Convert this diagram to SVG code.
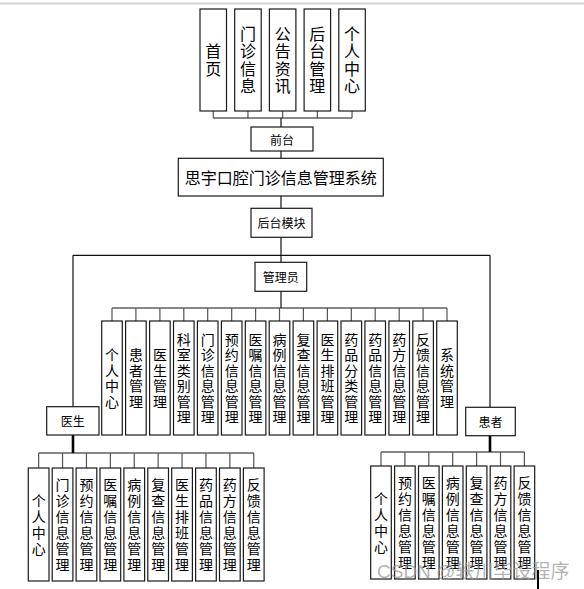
<svg xmlns="http://www.w3.org/2000/svg" width="584" height="589" viewBox="0 0 584 589">
<style>
  .box{fill:#fff;stroke:#1a1a1a;stroke-width:1.2}
  .ln{fill:none;stroke:#111;stroke-width:1.2}
  .stub{fill:none;stroke:#555;stroke-width:1.2}
  .thick{fill:none;stroke:#000;stroke-width:2.6}
  text{font-family:"Noto Sans CJK SC","Noto Sans",sans-serif;fill:#000;text-anchor:middle}
  .h{dominant-baseline:central}
  .v{writing-mode:vertical-rl;text-orientation:upright}
  .t12{font-size:12px}
  .t14{font-size:14px}
  .t16{font-size:16px}
  .va{letter-spacing:1.5px}
  .vd{letter-spacing:2px}
  .wm{font-family:"Liberation Sans","Noto Sans CJK SC",sans-serif;font-size:19px;fill:#9a9a9a;fill-opacity:0.75;text-anchor:start}
</style>
<rect width="584" height="589" fill="#fff"/>
<line x1="0" y1="3.5" x2="584" y2="3.5" stroke="#d4d4d4" stroke-width="2"/>

<g id="connectors">
  <path class="stub" d="M213.25 111V118M247.95 111V118M282.65 111V118M317.35 111V118M352.05 111V118"/>
  <path class="ln" d="M213.25 118H352.05M281 118V127M281 151V158M281 196V208M281 237V262M73 255.3H490M73 255.3V407M490 255.3V407M281 291V308"/>
  <path class="ln" d="M112 308H447"/>
  <path class="stub" d="M112 308V321M135.9 308V321M159.9 308V321M183.8 308V321M207.7 308V321M231.7 308V321M255.6 308V321M279.5 308V321M303.4 308V321M327.4 308V321M351.3 308V321M375.2 308V321M399.2 308V321M423.1 308V321M447 308V321"/>
  <path class="thick" d="M73 435V453"/>
  <path class="ln" d="M38.65 453H253.75"/>
  <path class="stub" d="M38.65 453V468M62.55 453V468M86.45 453V468M110.35 453V468M134.25 453V468M158.15 453V468M182.05 453V468M205.95 453V468M229.85 453V468M253.75 453V468"/>
  <path class="thick" d="M490 436V452"/>
  <path class="ln" d="M381 452H524.4"/>
  <path class="stub" d="M381 452V466M404.9 452V466M428.8 452V466M452.7 452V466M476.6 452V466M500.5 452V466M524.4 452V466"/>
</g>

<g id="top-home"><rect class="box" x="200" y="9" width="26.5" height="102"/><text class="v t16 va" x="213.25" y="60.8">首页</text></g>
<g id="top-clinic"><rect class="box" x="234.7" y="9" width="26.5" height="102"/><text class="v t16 va" x="247.95" y="60.8">门诊信息</text></g>
<g id="top-news"><rect class="box" x="269.4" y="9" width="26.5" height="102"/><text class="v t16 va" x="282.65" y="60.8">公告资讯</text></g>
<g id="top-backend"><rect class="box" x="304.1" y="9" width="26.5" height="102"/><text class="v t16 va" x="317.35" y="60.8">后台管理</text></g>
<g id="top-personal"><rect class="box" x="338.8" y="9" width="26.5" height="102"/><text class="v t16 va" x="352.05" y="60.8">个人中心</text></g>

<g id="frontend"><rect class="box" x="251" y="127" width="62" height="24"/><text class="h t12" x="282" y="139">前台</text></g>
<g id="system"><rect class="box" x="178.3" y="158.3" width="205" height="37.7"/><text class="h t16" x="280.8" y="177">思宇口腔门诊信息管理系统</text></g>
<g id="backend"><rect class="box" x="251" y="208.3" width="61" height="29"/><text class="h t12" x="281.5" y="222.8">后台模块</text></g>
<g id="admin"><rect class="box" x="255" y="262.3" width="51.7" height="29"/><text class="h t12" x="280.8" y="276.8">管理员</text></g>
<g id="doctor"><rect class="box" x="46.7" y="406.7" width="52.3" height="28.3"/><text class="h t12" x="72.8" y="420.8">医生</text></g>
<g id="patient"><rect class="box" x="465.7" y="407.3" width="49.6" height="28.4"/><text class="h t12" x="490.5" y="421.5">患者</text></g>

<g id="a1"><rect class="box" x="101.7" y="321" width="20.6" height="114"/><text class="v t14 va" x="112" y="378.7">个人中心</text></g>
<g id="a2"><rect class="box" x="125.6" y="321" width="20.6" height="114"/><text class="v t14 va" x="135.9" y="378.7">患者管理</text></g>
<g id="a3"><rect class="box" x="149.6" y="321" width="20.6" height="114"/><text class="v t14 va" x="159.9" y="378.7">医生管理</text></g>
<g id="a4"><rect class="box" x="173.5" y="321" width="20.6" height="114"/><text class="v t14 va" x="183.8" y="378.7">科室类别管理</text></g>
<g id="a5"><rect class="box" x="197.4" y="321" width="20.6" height="114"/><text class="v t14 va" x="207.7" y="378.7">门诊信息管理</text></g>
<g id="a6"><rect class="box" x="221.4" y="321" width="20.6" height="114"/><text class="v t14 va" x="231.7" y="378.7">预约信息管理</text></g>
<g id="a7"><rect class="box" x="245.3" y="321" width="20.6" height="114"/><text class="v t14 va" x="255.6" y="378.7">医嘱信息管理</text></g>
<g id="a8"><rect class="box" x="269.2" y="321" width="20.6" height="114"/><text class="v t14 va" x="279.5" y="378.7">病例信息管理</text></g>
<g id="a9"><rect class="box" x="293.1" y="321" width="20.6" height="114"/><text class="v t14 va" x="303.4" y="378.7">复查信息管理</text></g>
<g id="a10"><rect class="box" x="317.1" y="321" width="20.6" height="114"/><text class="v t14 va" x="327.4" y="378.7">医生排班管理</text></g>
<g id="a11"><rect class="box" x="341" y="321" width="20.6" height="114"/><text class="v t14 va" x="351.3" y="378.7">药品分类管理</text></g>
<g id="a12"><rect class="box" x="364.9" y="321" width="20.6" height="114"/><text class="v t14 va" x="375.2" y="378.7">药品信息管理</text></g>
<g id="a13"><rect class="box" x="388.9" y="321" width="20.6" height="114"/><text class="v t14 va" x="399.2" y="378.7">药方信息管理</text></g>
<g id="a14"><rect class="box" x="412.8" y="321" width="20.6" height="114"/><text class="v t14 va" x="423.1" y="378.7">反馈信息管理</text></g>
<g id="a15"><rect class="box" x="436.7" y="321" width="20.6" height="114"/><text class="v t14 va" x="447" y="378.7">系统管理</text></g>

<g id="d1"><rect class="box" x="28.3" y="468" width="20.7" height="113"/><text class="v t14 vd" x="38.65" y="525.5">个人中心</text></g>
<g id="d2"><rect class="box" x="52.2" y="468" width="20.7" height="113"/><text class="v t14 vd" x="62.55" y="525.5">门诊信息管理</text></g>
<g id="d3"><rect class="box" x="76.1" y="468" width="20.7" height="113"/><text class="v t14 vd" x="86.45" y="525.5">预约信息管理</text></g>
<g id="d4"><rect class="box" x="100" y="468" width="20.7" height="113"/><text class="v t14 vd" x="110.35" y="525.5">医嘱信息管理</text></g>
<g id="d5"><rect class="box" x="123.9" y="468" width="20.7" height="113"/><text class="v t14 vd" x="134.25" y="525.5">病例信息管理</text></g>
<g id="d6"><rect class="box" x="147.8" y="468" width="20.7" height="113"/><text class="v t14 vd" x="158.15" y="525.5">复查信息管理</text></g>
<g id="d7"><rect class="box" x="171.7" y="468" width="20.7" height="113"/><text class="v t14 vd" x="182.05" y="525.5">医生排班管理</text></g>
<g id="d8"><rect class="box" x="195.6" y="468" width="20.7" height="113"/><text class="v t14 vd" x="205.95" y="525.5">药品信息管理</text></g>
<g id="d9"><rect class="box" x="219.5" y="468" width="20.7" height="113"/><text class="v t14 vd" x="229.85" y="525.5">药方信息管理</text></g>
<g id="d10"><rect class="box" x="243.4" y="468" width="20.7" height="113"/><text class="v t14 vd" x="253.75" y="525.5">反馈信息管理</text></g>

<g id="p1"><rect class="box" x="370.7" y="466" width="20.6" height="113"/><text class="v t14 vd" x="381" y="523.5">个人中心</text></g>
<g id="p2"><rect class="box" x="394.6" y="466" width="20.6" height="113"/><text class="v t14 vd" x="404.9" y="523.5">预约信息管理</text></g>
<g id="p3"><rect class="box" x="418.5" y="466" width="20.6" height="113"/><text class="v t14 vd" x="428.8" y="523.5">医嘱信息管理</text></g>
<g id="p4"><rect class="box" x="442.4" y="466" width="20.6" height="113"/><text class="v t14 vd" x="452.7" y="523.5">病例信息管理</text></g>
<g id="p5"><rect class="box" x="466.3" y="466" width="20.6" height="113"/><text class="v t14 vd" x="476.6" y="523.5">复查信息管理</text></g>
<g id="p6"><rect class="box" x="490.2" y="466" width="20.6" height="113"/><text class="v t14 vd" x="500.5" y="523.5">药方信息管理</text></g>
<g id="p7"><rect class="box" x="514.1" y="466" width="20.6" height="113"/><text class="v t14 vd" x="524.4" y="523.5">反馈信息管理</text></g>

<text class="wm" x="377" y="578">CSDN @轶川毕设程序</text>
<line x1="538" y1="570" x2="538" y2="589" stroke="#000" stroke-width="2"/>
</svg>
